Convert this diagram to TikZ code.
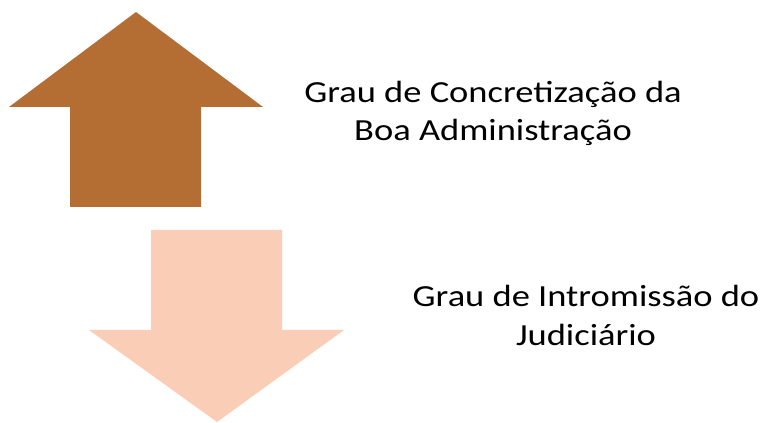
\documentclass[tikz,border=0pt]{standalone}
\usepackage{fontspec}
\setmainfont{Carlito}[FakeStretch=1.19]
\usepackage{xcolor}
\usepackage{tikz}
\usetikzlibrary{positioning}
\definecolor{upcolor}{RGB}{180,110,52}
\definecolor{downcolor}{RGB}{249,205,182}

\begin{document}
\begin{tikzpicture}[x=0.75pt, y=-0.75pt]
    \useasboundingbox (0,0) rectangle (766,423);
    \tikzset{label text/.style={align=center, anchor=base, inner sep=0pt, font=\fontsize{23}{28.5}\selectfont}}

    % Up arrow
    \fill[upcolor] (136,12) -- (263,107) -- (201,107) -- (201,207) -- (70,207) -- (70,107) -- (9,107) -- cycle;
    \node[label text] (concretizacao) at (493,141) {Grau de Concretização da\\Boa Administração};

    % Down arrow
    \fill[downcolor] (151,230) -- (282,230) -- (282,330) -- (344,330) -- (217,422) -- (89,330) -- (151,330) -- cycle;
    \node[label text] (intromissao) at (586,345) {Grau de Intromissão do\\Judiciário};
\end{tikzpicture}
\end{document}
